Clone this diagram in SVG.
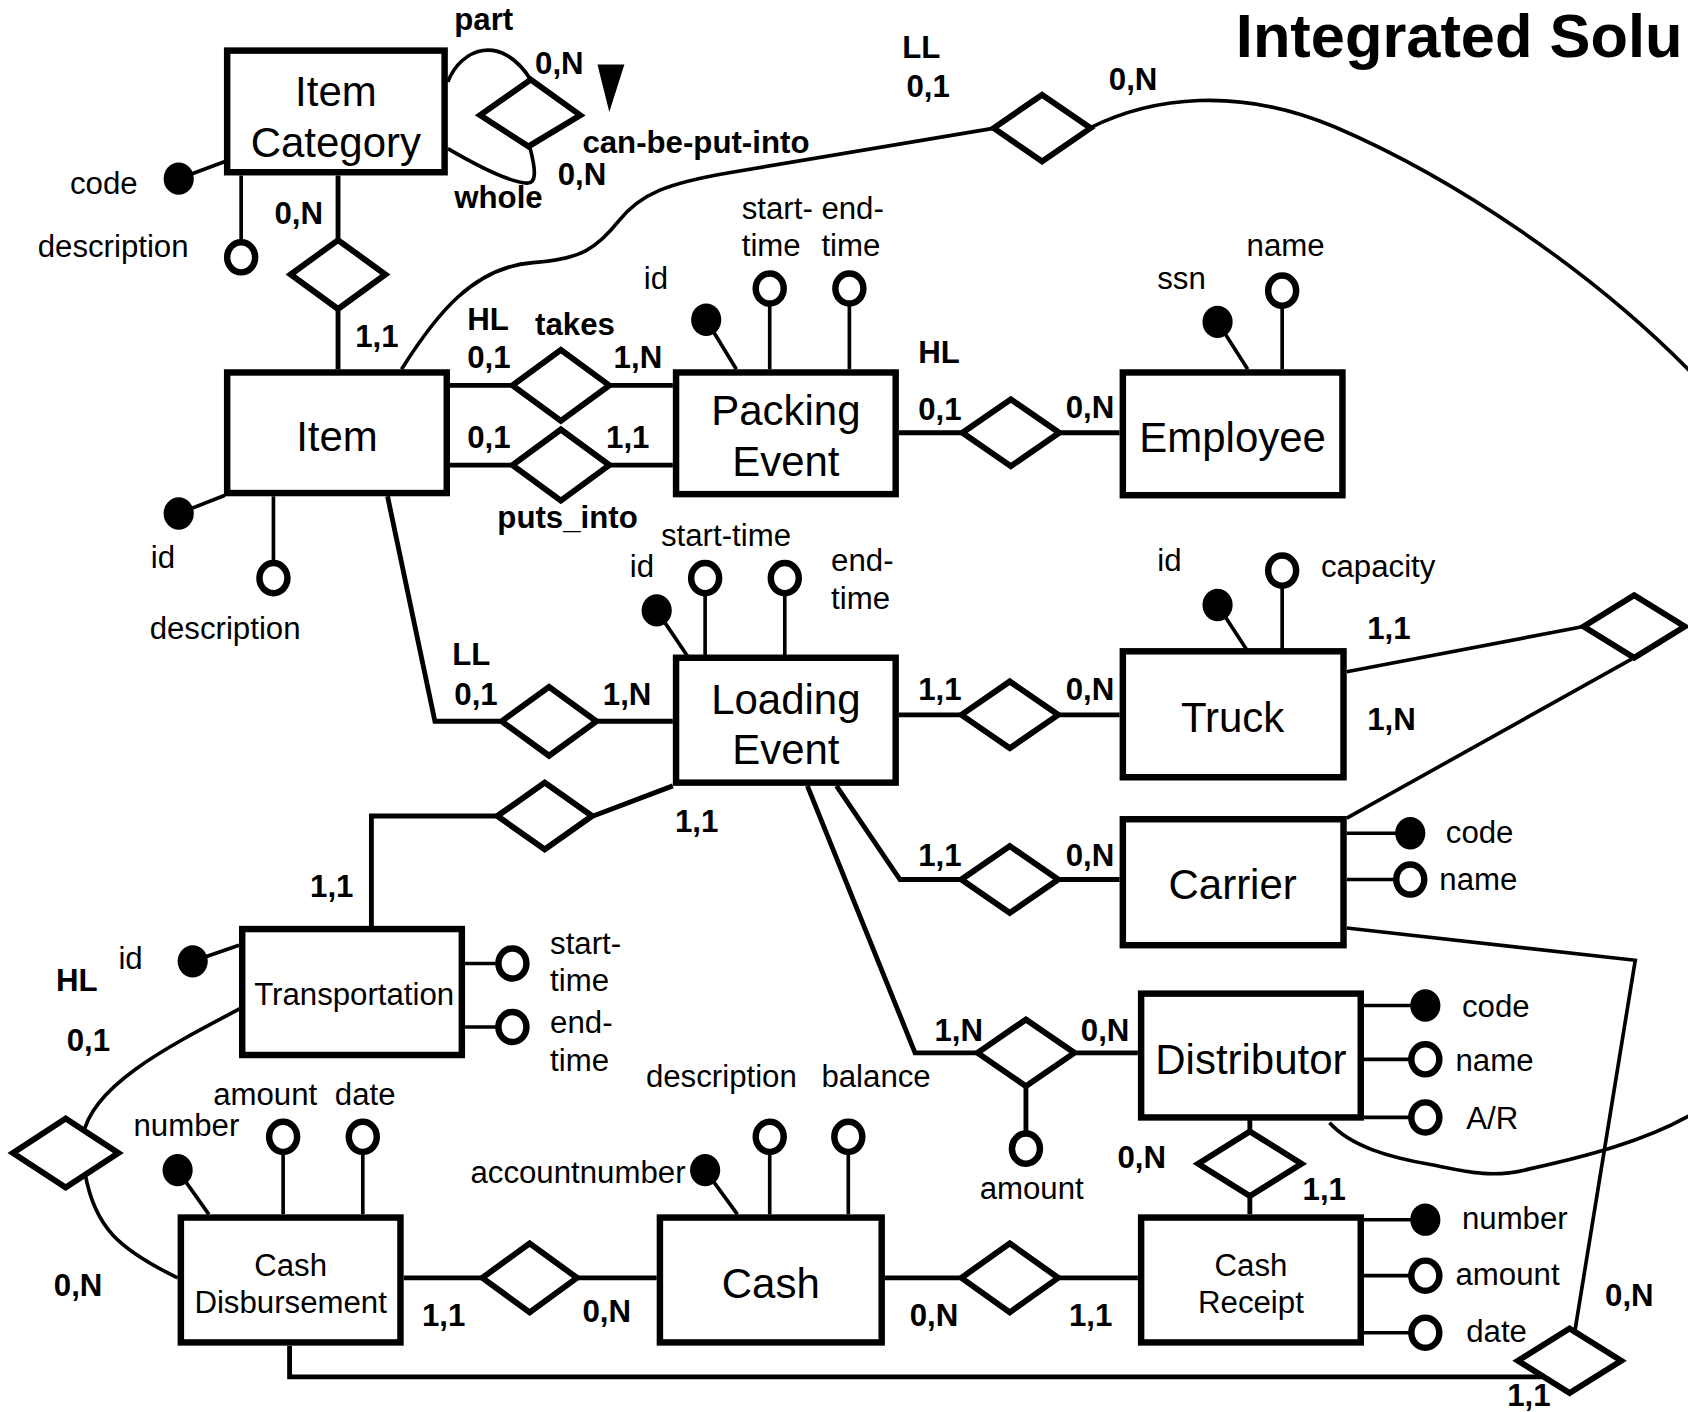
<svg xmlns="http://www.w3.org/2000/svg" width="1688" height="1412" viewBox="0 0 1688 1412">
<style>
.ent{fill:#fff;stroke:#000;stroke-width:6}
.dia{fill:#fff;stroke:#000;stroke-width:5.5;stroke-linejoin:miter}
.rel{fill:none;stroke:#000;stroke-width:4.5}
.thin{fill:none;stroke:#000;stroke-width:3.4}
.al{stroke:#000;stroke-width:3.4}
.key{fill:#000}
.opt{fill:#fff;stroke:#000;stroke-width:6}
text{font-family:"Liberation Sans",Arial,Helvetica,sans-serif;fill:#000}
.en{font-size:39px;text-anchor:middle}
.es{font-size:29px;text-anchor:middle}
.at{font-size:29px}
.lb{font-size:29px;font-weight:bold}
.ti{font-size:57px;font-weight:bold}
</style>
<rect width="1688" height="1412" fill="#fff"/>
<g transform="scale(1.076531)">
<g id="connectors">
<path class="rel" d="M314,163V223M314,287V343"/>
<path class="rel" d="M418,358H476M566,358H625"/>
<path class="rel" d="M418,432H476M566,432H625"/>
<path class="rel" d="M360,461L404,670H466M554,670H625"/>
<path class="rel" d="M835,402H894M984,402H1040"/>
<path class="rel" d="M835,664H893M983,664H1040"/>
<path class="rel" d="M777,730L836,817H893M983,817H1040"/>
<path class="rel" d="M750,730L850,978H908M998,978H1057"/>
<path class="rel" d="M625,730L551,758M462,758H345V863"/>
<path class="rel" d="M1161,1040V1052M1161,1111V1128"/>
<path class="rel" d="M375,1187H448M536,1187H610"/>
<path class="rel" d="M822,1187H893M983,1187H1057"/>
<path class="thin" d="M1251,624L1471,582M1516,612L1251,760"/>
<path class="thin" d="M1251,862L1519,892L1463,1236"/>
<path class="rel" d="M269,1250V1279H1432"/>
<path class="thin" d="M373,343C405,292 440,248 495,244C540,241 555,230 575,205C595,180 620,170 680,160L924,119"/>
<path class="thin" d="M1012,119C1070,90 1150,80 1240,118C1350,165 1480,252 1575,350"/>
<path class="thin" d="M1235,1043C1255,1065 1290,1075 1330,1082C1360,1088 1385,1095 1420,1086C1470,1075 1530,1060 1575,1033"/>
<path class="thin" d="M416,76C428,45 465,30 493,74"/>
<path class="thin" d="M416,138C440,152 470,168 488,170C500,172 497,155 492,136"/>
<path class="thin" d="M223,937C150,975 85,1010 77,1055"/>
<path class="thin" d="M79,1090C88,1140 110,1160 165,1187"/>
<path class="rel" d="M953,1010V1053"/>
</g>
<g id="rel-category">
<polygon class="dia" points="270,255 314,223 358,255 314,287"/>
<text class="lb" x="255" y="208">0,N</text>
<text class="lb" x="330" y="322">1,1</text>
</g>
<g id="rel-can-be-put-into">
<polygon class="dia" points="446,107 493,74 539,107 491,136"/>
<polygon points="555,60 580,60 566,104" fill="#000"/>
<text class="lb" x="422" y="28">part</text>
<text class="lb" x="497" y="69">0,N</text>
<text class="lb" x="541" y="142">can-be-put-into</text>
<text class="lb" x="518" y="172">0,N</text>
<text class="lb" x="422" y="193">whole</text>
</g>
<g id="rel-takes">
<polygon class="dia" points="476,358 521,325 566,358 521,391"/>
<text class="lb" x="434" y="307">HL</text>
<text class="lb" x="497" y="311">takes</text>
<text class="lb" x="434" y="342">0,1</text>
<text class="lb" x="570" y="342">1,N</text>
</g>
<g id="rel-puts-into">
<polygon class="dia" points="476,432 521,399 566,432 521,465"/>
<text class="lb" x="434" y="416">0,1</text>
<text class="lb" x="563" y="416">1,1</text>
<text class="lb" x="462" y="490">puts_into</text>
</g>
<g id="rel-item-loading">
<polygon class="dia" points="466,670 510,638 554,670 510,702"/>
<text class="lb" x="420" y="618">LL</text>
<text class="lb" x="422" y="655">0,1</text>
<text class="lb" x="560" y="655">1,N</text>
</g>
<g id="rel-packing-employee">
<polygon class="dia" points="894,402 939,371 984,402 939,433"/>
<text class="lb" x="853" y="337">HL</text>
<text class="lb" x="853" y="390">0,1</text>
<text class="lb" x="990" y="388">0,N</text>
</g>
<g id="rel-loading-truck">
<polygon class="dia" points="893,664 938,633 983,664 938,695"/>
<text class="lb" x="853" y="650">1,1</text>
<text class="lb" x="990" y="650">0,N</text>
</g>
<g id="rel-loading-carrier">
<polygon class="dia" points="893,817 938,786 983,817 938,848"/>
<text class="lb" x="853" y="804">1,1</text>
<text class="lb" x="990" y="804">0,N</text>
</g>
<g id="rel-loading-distributor">
<polygon class="dia" points="908,978 953,947 998,978 953,1009"/>
<text class="lb" x="868" y="967">1,N</text>
<text class="lb" x="1004" y="967">0,N</text>
<ellipse class="opt" cx="953" cy="1067" rx="13" ry="14"/>
<text class="at" x="910" y="1114">amount</text>
</g>
<g id="rel-loading-transportation">
<polygon class="dia" points="462,758 506,727 550,758 506,789"/>
<text class="lb" x="627" y="773">1,1</text>
<text class="lb" x="288" y="833">1,1</text>
</g>
<g id="rel-truck-carrier">
<polygon class="dia" points="1471,582 1518,553 1565,582 1518,611"/>
<text class="lb" x="1270" y="594">1,1</text>
<text class="lb" x="1270" y="678">1,N</text>
</g>
<g id="rel-item-ll">
<polygon class="dia" points="923,119 968,88 1013,119 968,150"/>
<text class="lb" x="838" y="54">LL</text>
<text class="lb" x="842" y="90">0,1</text>
<text class="lb" x="1030" y="84">0,N</text>
</g>
<g id="rel-distributor-receipt">
<polygon class="dia" points="1113,1081 1161,1051 1209,1081 1161,1111"/>
<text class="lb" x="1038" y="1085">0,N</text>
<text class="lb" x="1210" y="1115">1,1</text>
</g>
<g id="rel-disbursement-cash">
<polygon class="dia" points="448,1187 492,1155 536,1187 492,1219"/>
<text class="lb" x="392" y="1232">1,1</text>
<text class="lb" x="541" y="1228">0,N</text>
</g>
<g id="rel-cash-receipt">
<polygon class="dia" points="893,1187 938,1155 983,1187 938,1219"/>
<text class="lb" x="845" y="1232">0,N</text>
<text class="lb" x="993" y="1232">1,1</text>
</g>
<g id="rel-transportation-disbursement">
<polygon class="dia" points="12,1071 61,1039 110,1071 61,1103"/>
<text class="lb" x="52" y="921">HL</text>
<text class="lb" x="62" y="976">0,1</text>
<text class="lb" x="50" y="1204">0,N</text>
</g>
<g id="rel-bottom-right">
<polygon class="dia" points="1410,1264 1458,1234 1506,1264 1458,1294"/>
<text class="lb" x="1491" y="1213">0,N</text>
<text class="lb" x="1400" y="1306">1,1</text>
</g>
<g id="title">
<text class="ti" x="1148" y="53">Integrated Solu</text>
</g>
<g id="item-category">
<line class="al" x1="166" y1="166" x2="209" y2="150"/>
<ellipse class="key" cx="166" cy="166" rx="14" ry="15"/>
<text class="at" x="65" y="180">code</text>
<line class="al" x1="224" y1="163" x2="224" y2="225"/>
<ellipse class="opt" cx="224" cy="239" rx="13" ry="14"/>
<text class="at" x="35" y="239">description</text>
<rect class="ent" x="211" y="47" width="202" height="113"/>
<text class="en" x="312" y="98">Item</text>
<text class="en" x="312" y="146">Category</text>
</g>
<g id="item">
<line class="al" x1="166" y1="477" x2="209" y2="460"/>
<ellipse class="key" cx="166" cy="477" rx="14" ry="15"/>
<text class="at" x="140" y="528">id</text>
<line class="al" x1="254" y1="461" x2="254" y2="523"/>
<ellipse class="opt" cx="254" cy="537" rx="13" ry="14"/>
<text class="at" x="139" y="594">description</text>
<rect class="ent" x="211" y="346" width="204" height="112"/>
<text class="en" x="313" y="419">Item</text>
</g>
<g id="packing-event">
<line class="al" x1="656" y1="297" x2="684" y2="343"/>
<ellipse class="key" cx="656" cy="297" rx="14" ry="15"/>
<text class="at" x="598" y="268">id</text>
<line class="al" x1="715" y1="282" x2="715" y2="343"/>
<ellipse class="opt" cx="715" cy="268" rx="13" ry="14"/>
<text class="at" x="689" y="203">start-</text>
<text class="at" x="689" y="238">time</text>
<line class="al" x1="789" y1="282" x2="789" y2="343"/>
<ellipse class="opt" cx="789" cy="268" rx="13" ry="14"/>
<text class="at" x="763" y="203">end-</text>
<text class="at" x="763" y="238">time</text>
<rect class="ent" x="628" y="346" width="204" height="113"/>
<text class="en" x="730" y="395">Packing</text>
<text class="en" x="730" y="442">Event</text>
</g>
<g id="employee">
<line class="al" x1="1131" y1="299" x2="1159" y2="343"/>
<ellipse class="key" cx="1131" cy="299" rx="14" ry="15"/>
<text class="at" x="1075" y="268">ssn</text>
<line class="al" x1="1191" y1="284" x2="1191" y2="343"/>
<ellipse class="opt" cx="1191" cy="270" rx="13" ry="14"/>
<text class="at" x="1158" y="238">name</text>
<rect class="ent" x="1043" y="346" width="204" height="114"/>
<text class="en" x="1145" y="420">Employee</text>
</g>
<g id="loading-event">
<line class="al" x1="610" y1="567" x2="639" y2="610"/>
<ellipse class="key" cx="610" cy="567" rx="14" ry="15"/>
<text class="at" x="585" y="536">id</text>
<line class="al" x1="655" y1="551" x2="655" y2="610"/>
<ellipse class="opt" cx="655" cy="537" rx="13" ry="14"/>
<text class="at" x="614" y="507">start-time</text>
<line class="al" x1="729" y1="551" x2="729" y2="610"/>
<ellipse class="opt" cx="729" cy="537" rx="13" ry="14"/>
<text class="at" x="772" y="530">end-</text>
<text class="at" x="772" y="566">time</text>
<rect class="ent" x="628" y="611" width="204" height="116"/>
<text class="en" x="730" y="663">Loading</text>
<text class="en" x="730" y="710">Event</text>
</g>
<g id="truck">
<line class="al" x1="1131" y1="562" x2="1159" y2="605"/>
<ellipse class="key" cx="1131" cy="562" rx="14" ry="15"/>
<text class="at" x="1075" y="530">id</text>
<line class="al" x1="1191" y1="544" x2="1191" y2="605"/>
<ellipse class="opt" cx="1191" cy="530" rx="13" ry="14"/>
<text class="at" x="1227" y="536">capacity</text>
<rect class="ent" x="1043" y="605" width="205" height="117"/>
<text class="en" x="1145" y="680">Truck</text>
</g>
<g id="carrier">
<line class="al" x1="1251" y1="774" x2="1310" y2="774"/>
<ellipse class="key" cx="1310" cy="774" rx="14" ry="15"/>
<text class="at" x="1343" y="783">code</text>
<line class="al" x1="1251" y1="817" x2="1297" y2="817"/>
<ellipse class="opt" cx="1310" cy="817" rx="13" ry="14"/>
<text class="at" x="1337" y="827">name</text>
<rect class="ent" x="1043" y="761" width="205" height="117"/>
<text class="en" x="1145" y="835">Carrier</text>
</g>
<g id="distributor">
<line class="al" x1="1267" y1="934" x2="1324" y2="934"/>
<ellipse class="key" cx="1324" cy="934" rx="14" ry="15"/>
<text class="at" x="1358" y="945">code</text>
<line class="al" x1="1267" y1="984" x2="1311" y2="984"/>
<ellipse class="opt" cx="1324" cy="984" rx="13" ry="14"/>
<text class="at" x="1352" y="995">name</text>
<line class="al" x1="1267" y1="1038" x2="1311" y2="1038"/>
<ellipse class="opt" cx="1324" cy="1038" rx="13" ry="14"/>
<text class="at" x="1362" y="1049">A/R</text>
<rect class="ent" x="1060" y="923" width="204" height="115"/>
<text class="en" x="1162" y="998">Distributor</text>
</g>
<g id="transportation">
<line class="al" x1="179" y1="893" x2="222" y2="878"/>
<ellipse class="key" cx="179" cy="893" rx="14" ry="15"/>
<text class="at" x="110" y="900">id</text>
<line class="al" x1="432" y1="895" x2="463" y2="895"/>
<ellipse class="opt" cx="476" cy="895" rx="13" ry="14"/>
<text class="at" x="511" y="886">start-</text>
<text class="at" x="511" y="921">time</text>
<line class="al" x1="432" y1="954" x2="463" y2="954"/>
<ellipse class="opt" cx="476" cy="954" rx="13" ry="14"/>
<text class="at" x="511" y="960">end-</text>
<text class="at" x="511" y="995">time</text>
<rect class="ent" x="225" y="863" width="204" height="117"/>
<text class="es" x="329" y="934">Transportation</text>
</g>
<g id="cash-disbursement">
<line class="al" x1="165" y1="1087" x2="194" y2="1128"/>
<ellipse class="key" cx="165" cy="1087" rx="14" ry="15"/>
<text class="at" x="124" y="1055">number</text>
<line class="al" x1="263" y1="1070" x2="263" y2="1128"/>
<ellipse class="opt" cx="263" cy="1056" rx="13" ry="14"/>
<text class="at" x="198" y="1026">amount</text>
<line class="al" x1="337" y1="1070" x2="337" y2="1128"/>
<ellipse class="opt" cx="337" cy="1056" rx="13" ry="14"/>
<text class="at" x="311" y="1026">date</text>
<rect class="ent" x="168" y="1131" width="204" height="116"/>
<text class="es" x="270" y="1185">Cash</text>
<text class="es" x="270" y="1220">Disbursement</text>
</g>
<g id="cash">
<line class="al" x1="655" y1="1087" x2="685" y2="1128"/>
<ellipse class="key" cx="655" cy="1087" rx="14" ry="15"/>
<text class="at" x="437" y="1099">accountnumber</text>
<line class="al" x1="715" y1="1070" x2="715" y2="1128"/>
<ellipse class="opt" cx="715" cy="1056" rx="13" ry="14"/>
<text class="at" x="600" y="1010">description</text>
<line class="al" x1="788" y1="1070" x2="788" y2="1128"/>
<ellipse class="opt" cx="788" cy="1056" rx="13" ry="14"/>
<text class="at" x="763" y="1010">balance</text>
<rect class="ent" x="613" y="1131" width="206" height="116"/>
<text class="en" x="716" y="1206">Cash</text>
</g>
<g id="cash-receipt">
<line class="al" x1="1267" y1="1133" x2="1324" y2="1133"/>
<ellipse class="key" cx="1324" cy="1133" rx="14" ry="15"/>
<text class="at" x="1358" y="1142">number</text>
<line class="al" x1="1267" y1="1185" x2="1311" y2="1185"/>
<ellipse class="opt" cx="1324" cy="1185" rx="13" ry="14"/>
<text class="at" x="1352" y="1194">amount</text>
<line class="al" x1="1267" y1="1238" x2="1311" y2="1238"/>
<ellipse class="opt" cx="1324" cy="1238" rx="13" ry="14"/>
<text class="at" x="1362" y="1247">date</text>
<rect class="ent" x="1060" y="1131" width="204" height="116"/>
<text class="es" x="1162" y="1185">Cash</text>
<text class="es" x="1162" y="1220">Receipt</text>
</g>
</g>
</svg>
